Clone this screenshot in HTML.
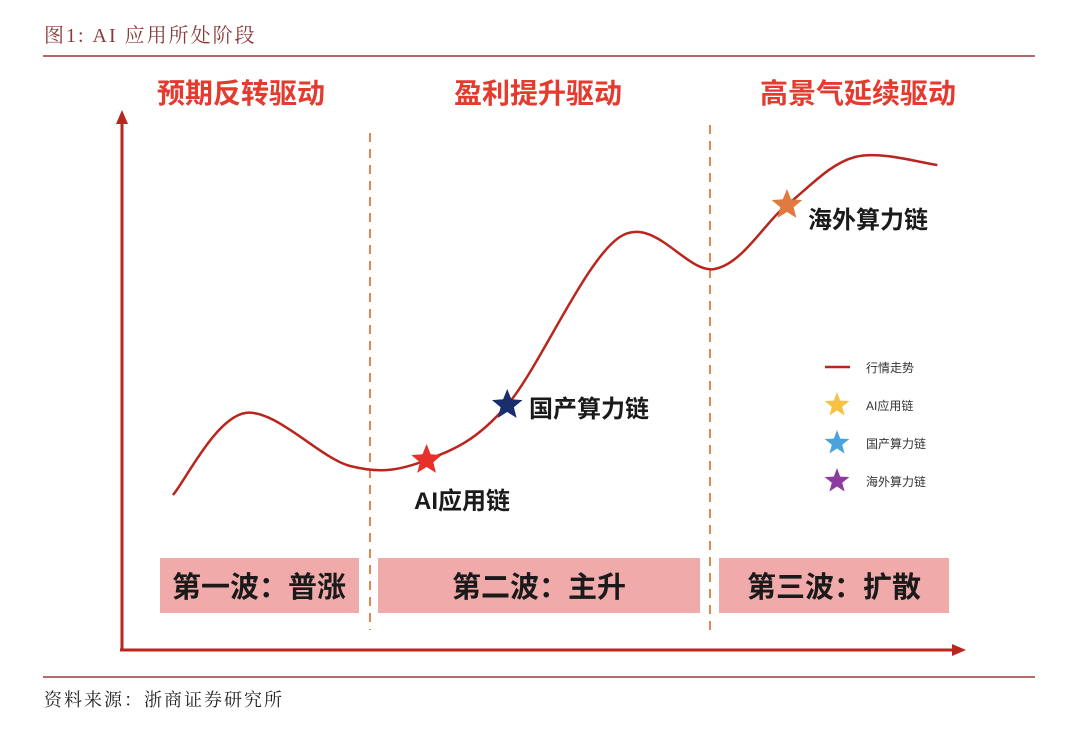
<!DOCTYPE html>
<html><head><meta charset="utf-8"><style>
body{margin:0;width:1080px;height:735px;background:#fff;overflow:hidden;font-family:"Liberation Sans","Noto Sans CJK SC",sans-serif}
svg{position:absolute;left:0;top:0}
</style></head><body>
<svg width="1080" height="735" viewBox="0 0 1080 735">
<text x="44" y="42" font-family="'Liberation Serif','Noto Serif CJK SC',serif" font-size="20" letter-spacing="2" fill="#8a3a3a">图1:  AI 应用所处阶段</text>
<line x1="43" y1="56" x2="1035" y2="56" stroke="#9a3a3a" stroke-width="1.5"/>
<line x1="43" y1="677" x2="1035" y2="677" stroke="#9a3a3a" stroke-width="1.5"/>
<text x="44" y="706" font-family="'Liberation Serif','Noto Serif CJK SC',serif" font-size="18" letter-spacing="2" fill="#222">资料来源：浙商证券研究所</text>
<g font-weight="bold" font-size="28" fill="#e53a2e" text-anchor="middle">
<text x="241" y="103">预期反转驱动</text>
<text x="538" y="103">盈利提升驱动</text>
<text x="858" y="103">高景气延续驱动</text>
</g>
<g stroke="#e08850" stroke-width="2" stroke-dasharray="9,7">
<line x1="370" y1="133" x2="370" y2="630"/>
<line x1="710" y1="125" x2="710" y2="630"/>
</g>
<g fill="#f0aaaa">
<rect x="160" y="558" width="199" height="55"/>
<rect x="378" y="558" width="322" height="55"/>
<rect x="719" y="558" width="230" height="55"/>
</g>
<g font-weight="bold" font-size="29" fill="#1a1a1a" text-anchor="middle">
<text x="259" y="597">第一波：普涨</text>
<text x="539" y="597">第二波：主升</text>
<text x="834" y="597">第三波：扩散</text>
</g>
<g stroke="#b8261e" stroke-width="3" fill="#b8261e">
<line x1="122" y1="650" x2="122" y2="120"/>
<polygon points="122,110 116,124 128,124" stroke="none"/>
<line x1="120" y1="650" x2="955" y2="650"/>
<polygon points="966,650 952,644 952,656" stroke="none"/>
</g>
<path id="curve" fill="none" stroke="#b8261e" stroke-width="2.5"/>
<g id="stars"></g>
<g font-weight="bold" font-size="24" fill="#1a1a1a">
<text x="414" y="509">AI应用链</text>
<text x="529" y="417">国产算力链</text>
<text x="808" y="228">海外算力链</text>
</g>
<g font-size="12" fill="#333">
<line x1="825" y1="367" x2="850" y2="367" stroke="#b8261e" stroke-width="2.5"/>
<text x="866" y="372">行情走势</text>
<text x="866" y="410">AI应用链</text>
<text x="866" y="448">国产算力链</text>
<text x="866" y="486">海外算力链</text>
</g>
</svg>
<script>
const trendX=[6.3,14.9,27.4,36.5,46.1,59.5,70.8,79.4,87.5,97.3];
const trendY=[31,47.4,36.8,38,49,82.6,76.2,89,98.6,97];
const starNames=['AI应用链','国产算力链','海外算力链'];
const starX=[36.5,46.1,79.4];
const starY=[38,49,89];
const sx=v=>120+v*8.4, sy=v=>650-v*5;
const P=trendX.map((x,i)=>[sx(x),sy(trendY[i])]);
let d='M'+P[0][0]+','+P[0][1];
for(let i=0;i<P.length-1;i++){const p0=P[Math.max(i-1,0)],p1=P[i],p2=P[i+1],p3=P[Math.min(i+2,P.length-1)];
d+=` C${p1[0]+(p2[0]-p0[0])/6},${p1[1]+(p2[1]-p0[1])/6} ${p2[0]-(p3[0]-p1[0])/6},${p2[1]-(p3[1]-p1[1])/6} ${p2[0]},${p2[1]}`;}
document.getElementById('curve').setAttribute('d',d);
function star(cx,cy,R,r){let s=[];for(let k=0;k<10;k++){const a=-Math.PI/2+k*Math.PI/5,rr=k%2?r:R;s.push((cx+rr*Math.cos(a)).toFixed(1)+','+(cy+rr*Math.sin(a)).toFixed(1));}return s.join(' ');}
const ns='http://www.w3.org/2000/svg',g=document.getElementById('stars');
const cols=['#e8302a','#1a2e6e','#e07a40'];
starX.forEach((x,i)=>{const p=document.createElementNS(ns,'polygon');p.setAttribute('points',star(sx(x),sy(starY[i]),16,7));p.setAttribute('fill',cols[i]);


g.appendChild(p);});
const lc=['#f5c242','#4aa3dc','#8e3a9e'];
[405,443,481].forEach((y,i)=>{const p=document.createElementNS(ns,'polygon');p.setAttribute('points',star(837,y,13,5.5));p.setAttribute('fill',lc[i]);


g.appendChild(p);});
</script>
</body></html>
